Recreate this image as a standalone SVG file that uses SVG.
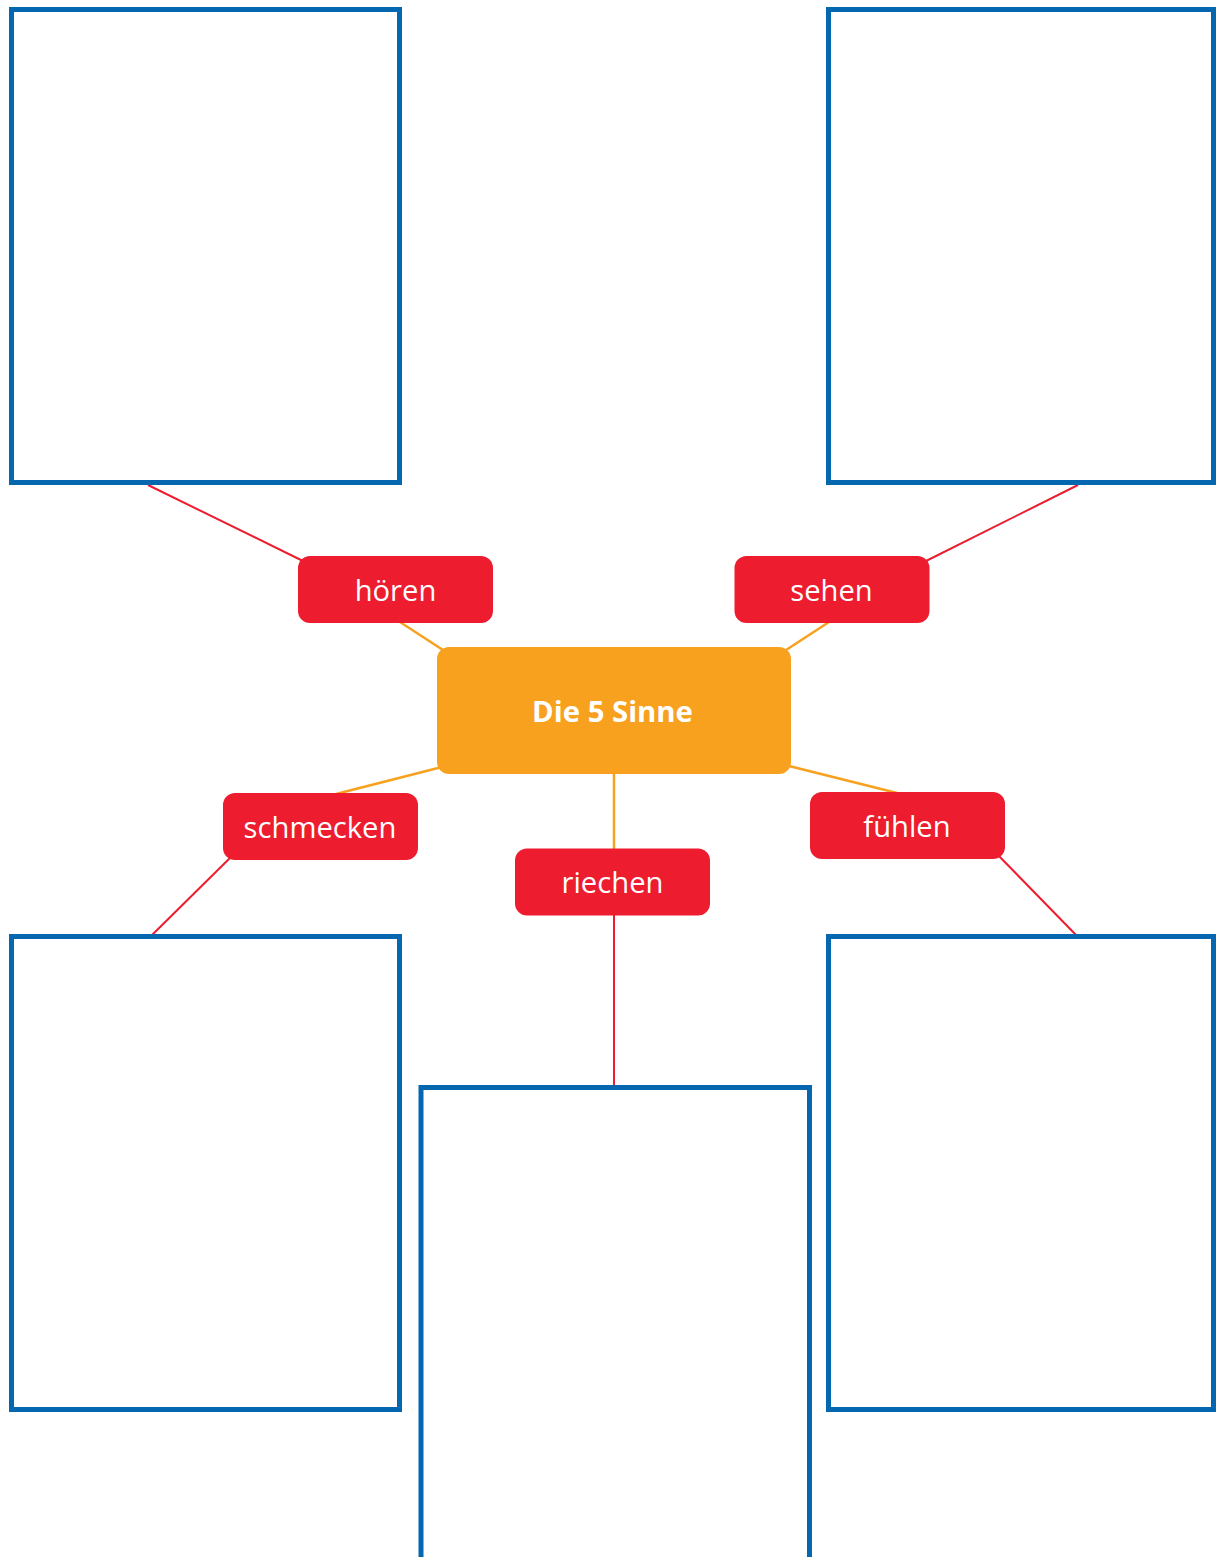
<svg xmlns="http://www.w3.org/2000/svg" width="1217" height="1557" viewBox="0 0 1217 1557">
<style>
.box{fill:#fff;stroke:#0567AF;stroke-width:5}
.lbl{fill:#ED1C2E}
.lbl-t{font-family:"Open Sans",sans-serif;font-size:29.2px;fill:#fff;text-anchor:middle}
.ctr{fill:#F7A11F}
.ctr-t{font-family:"Open Sans",sans-serif;font-size:29.3px;font-weight:bold;fill:#fff;text-anchor:middle}
.red{stroke:#ED1C2E;stroke-width:2;fill:none}
.org{stroke:#F7A11F;stroke-width:2.5;fill:none}
</style>
<rect width="1217" height="1557" fill="#fff"/>
<g id="connectors">
<line class="red" x1="148" y1="485" x2="305" y2="562"/>
<line class="org" x1="400" y1="622" x2="446" y2="652"/>
<line class="red" x1="1078" y1="485" x2="922" y2="563"/>
<line class="org" x1="829" y1="622" x2="783" y2="652"/>
<line class="org" x1="442" y1="767" x2="336" y2="794"/>
<line class="red" x1="232" y1="856" x2="151" y2="936"/>
<line class="org" x1="785" y1="765" x2="897" y2="793"/>
<line class="red" x1="996" y1="853" x2="1077" y2="936"/>
<line class="org" x1="614" y1="772" x2="614" y2="850"/>
<line class="red" x1="614" y1="914" x2="614" y2="1087"/>
</g>
<g id="box-hoeren"><rect class="box" x="11.5" y="9.5" width="388" height="473"/></g>
<g id="box-sehen"><rect class="box" x="828.5" y="9.5" width="385" height="473"/></g>
<g id="box-schmecken"><rect class="box" x="11.5" y="936.5" width="388" height="473"/></g>
<g id="box-fuehlen"><rect class="box" x="828.5" y="936.5" width="385" height="473"/></g>
<g id="box-riechen"><rect class="box" x="421" y="1087.5" width="388.5" height="520"/></g>
<g id="center"><rect class="ctr" x="437" y="647" width="354" height="127" rx="12"/><text class="ctr-t" x="612.5" y="721.5">Die 5 Sinne</text></g>
<g id="hoeren"><rect class="lbl" x="298" y="556" width="195" height="67" rx="12"/><text class="lbl-t" x="395.5" y="601">hören</text></g>
<g id="sehen"><rect class="lbl" x="734.5" y="556" width="195" height="67" rx="12"/><text class="lbl-t" x="831.5" y="601">sehen</text></g>
<g id="schmecken"><rect class="lbl" x="223" y="793" width="195" height="67" rx="12"/><text class="lbl-t" x="320" y="838">schmecken</text></g>
<g id="fuehlen"><rect class="lbl" x="810" y="792" width="195" height="67" rx="12"/><text class="lbl-t" x="907" y="837">fühlen</text></g>
<g id="riechen"><rect class="lbl" x="515" y="848.5" width="195" height="67" rx="12"/><text class="lbl-t" x="612.5" y="893">riechen</text></g>
</svg>
